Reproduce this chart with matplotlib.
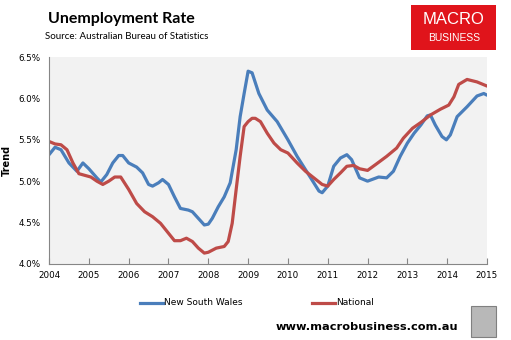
import matplotlib
matplotlib.use("Agg")
import matplotlib.pyplot as plt
from matplotlib.patches import Rectangle
from matplotlib.lines import Line2D

# data (decimal year, % unemployment, trend)
nsw_years = [2004.0, 2004.15, 2004.3, 2004.5, 2004.7, 2004.85, 2005.0, 2005.2, 2005.3, 2005.45,
             2005.6, 2005.75, 2005.85, 2006.0, 2006.2, 2006.35, 2006.5, 2006.6, 2006.75, 2006.85,
             2007.0, 2007.15, 2007.3, 2007.5, 2007.6, 2007.75, 2007.9, 2008.0, 2008.1, 2008.25,
             2008.4, 2008.55, 2008.7, 2008.8, 2008.9, 2009.0, 2009.1, 2009.27, 2009.48, 2009.73,
             2010.0, 2010.23, 2010.44, 2010.65, 2010.78, 2010.86, 2011.0, 2011.15, 2011.32, 2011.48,
             2011.6, 2011.8, 2012.0, 2012.28, 2012.48, 2012.65, 2012.82, 2013.0, 2013.17, 2013.34,
             2013.5, 2013.58, 2013.7, 2013.87, 2013.98, 2014.08, 2014.25, 2014.5, 2014.75, 2014.92,
             2015.0]
nsw_rate = [5.32, 5.41, 5.38, 5.22, 5.12, 5.22, 5.15, 5.04, 4.99, 5.08,
            5.22, 5.31, 5.31, 5.22, 5.17, 5.10, 4.96, 4.94, 4.98, 5.02,
            4.96, 4.81, 4.67, 4.65, 4.63, 4.55, 4.47, 4.48, 4.55, 4.69,
            4.81, 4.98, 5.38, 5.78, 6.06, 6.33, 6.31, 6.06, 5.86, 5.72,
            5.50, 5.30, 5.14, 4.98, 4.88, 4.86, 4.94, 5.18, 5.28, 5.32,
            5.26, 5.04, 5.00, 5.05, 5.04, 5.12, 5.30, 5.46, 5.58, 5.68,
            5.79, 5.80, 5.68, 5.54, 5.50, 5.56, 5.78, 5.90, 6.03, 6.06,
            6.04]

nat_years = [2004.0, 2004.15, 2004.3, 2004.45, 2004.6, 2004.75, 2004.9, 2005.05, 2005.2, 2005.35,
             2005.5, 2005.65, 2005.8, 2006.0, 2006.2, 2006.4, 2006.6, 2006.8, 2007.0, 2007.15,
             2007.3, 2007.45, 2007.6, 2007.75, 2007.9, 2008.0, 2008.2, 2008.4, 2008.5, 2008.6,
             2008.7, 2008.8, 2008.9, 2009.0, 2009.1, 2009.18, 2009.31, 2009.48, 2009.65, 2009.82,
             2010.0, 2010.23, 2010.44, 2010.65, 2010.86, 2011.0, 2011.15, 2011.32, 2011.48, 2011.65,
             2011.8, 2012.0, 2012.2, 2012.48, 2012.73, 2012.9, 2013.13, 2013.34, 2013.58, 2013.83,
             2014.04, 2014.17, 2014.29, 2014.5, 2014.75, 2015.0]
nat_rate = [5.48, 5.45, 5.44, 5.38, 5.22, 5.09, 5.07, 5.05, 5.00, 4.96,
            5.00, 5.05, 5.05, 4.90, 4.73, 4.63, 4.57, 4.49, 4.37, 4.28,
            4.28, 4.31, 4.27, 4.19, 4.13, 4.14, 4.19, 4.21, 4.27, 4.49,
            4.90, 5.30, 5.66, 5.72, 5.76, 5.76, 5.72, 5.58, 5.46, 5.38,
            5.34, 5.22, 5.12, 5.04, 4.96, 4.94, 5.02, 5.10, 5.18, 5.19,
            5.15, 5.13, 5.20, 5.30, 5.40, 5.52, 5.64, 5.71, 5.80, 5.87,
            5.92, 6.02, 6.17, 6.23, 6.20, 6.15]

series_names = ['New South Wales', 'National']
year_ticks = list(range(2004, 2016))
rate_ticks = [4.0, 4.5, 5.0, 5.5, 6.0, 6.5]

blue = '#4A7EBB'
red = '#BE4B48'
lw = 2.3

fig = plt.figure(figsize=(5.11, 3.40), dpi=100)
ax = fig.add_axes([0.096, 0.224, 0.857, 0.608])
ax.set_facecolor('#F2F2F2')

ax.plot(nsw_years, nsw_rate, color=blue, lw=lw, solid_joinstyle='round', solid_capstyle='round')
ax.plot(nat_years, nat_rate, color=red, lw=lw, solid_joinstyle='round', solid_capstyle='round')

ax.set_xlim(2004, 2015)
ax.set_ylim(4.0, 6.5)
ax.set_xticks(year_ticks)
ax.set_xticklabels([str(y) for y in year_ticks])
ax.set_yticks(rate_ticks)
ax.set_yticklabels(['%.1f%%' % r for r in rate_ticks])
for s in ['top', 'right']:
    ax.spines[s].set_visible(False)
for s in ['left', 'bottom']:
    ax.spines[s].set_color('#868686')
    ax.spines[s].set_linewidth(0.8)
ax.tick_params(axis='x', direction='in', length=4, color='#868686', labelsize=6.3, pad=5)
ax.tick_params(axis='y', length=0, labelsize=6.3, pad=6)
ax.set_ylabel('Trend', fontsize=7, fontweight='bold')
ax.yaxis.set_label_coords(-0.085, 0.5)

fig.text(0.094, 0.945, 'Unemployment Rate', fontsize=11.5, fontweight='bold', family='Lato', va='center')
fig.text(0.088, 0.893, 'Source: Australian Bureau of Statistics', fontsize=7, family='Lato', va='center')

# logo
fig.patches.append(Rectangle((0.805, 0.853), 0.166, 0.132, transform=fig.transFigure,
                             facecolor='#E0141B', edgecolor='none'))
fig.text(0.888, 0.942, 'MACRO', color='white', fontsize=12, ha='center', va='center', family='Liberation Sans')
fig.text(0.888, 0.888, 'BUSINESS', color='white', fontsize=7.5, ha='center', va='center', family='Liberation Sans')

# legend, drawn by hand to match the spacing
for x0, col, name in [(0.274, blue, series_names[0]), (0.611, red, series_names[1])]:
    fig.lines.append(Line2D([x0, x0 + 0.045], [0.109, 0.109], color=col, lw=lw,
                            transform=fig.transFigure))
    fig.text(x0 + 0.047, 0.109, name, fontsize=6.5, va='center')

fig.text(0.54, 0.038, 'www.macrobusiness.com.au', fontsize=8.2, fontweight='bold', va='center')
fig.patches.append(Rectangle((0.922, 0.01), 0.048, 0.09, transform=fig.transFigure,
                             facecolor='#B8B8B8', edgecolor='#808080', lw=0.8))

fig.savefig('out.png', dpi=100)
